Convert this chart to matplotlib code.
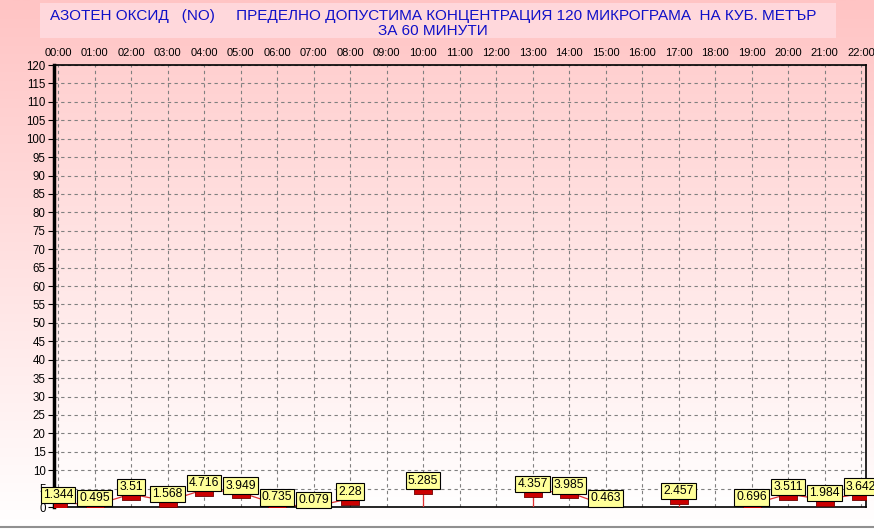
import numpy as np
import matplotlib
matplotlib.use('Agg')
import matplotlib.pyplot as plt
from matplotlib.patches import Rectangle

plt.rcParams['font.family'] = ['Liberation Sans', 'DejaVu Sans']

# данные: часы и концентрация NO (None - нет измерения)
hours = list(range(23))
hour_labels = ['%02d:00' % h for h in hours]
values = [1.344, 0.495, 3.51, 1.568, 4.716, 3.949, 0.735, 0.079, 2.28, None,
          5.285, None, None, 4.357, 3.985, 0.463, None, 2.457, None,
          0.696, 3.511, 1.984, 3.642]
y_ticks = list(range(0, 121, 5))

title_text = ('АЗОТЕН ОКСИД   (NO)     ПРЕДЕЛНО ДОПУСТИМА КОНЦЕНТРАЦИЯ 120 МИКРОГРАМА  НА КУБ. МЕТЪР\n'
              'ЗА 60 МИНУТИ')

W, H = 874, 529
fig = plt.figure(figsize=(W / 100, H / 100), dpi=100)

# фон фигуры - градиент от розового к белому
bg = fig.add_axes([0, 0, 1, 1], zorder=-10)
grad = np.linspace(0, 1, 256).reshape(-1, 1)
cols = np.zeros((256, 1, 3))
top_c = np.array([255, 196, 196]) / 255
bot_c = np.array([255, 255, 255]) / 255
for i in range(3):
    cols[:, 0, i] = top_c[i] + (bot_c[i] - top_c[i]) * grad[:, 0]
bg.imshow(cols, aspect='auto', extent=[0, 1, 0, 1], origin='upper')
bg.set_xlim(0, 1)
bg.set_ylim(0, 1)
bg.axis('off')
# полоса заголовка
bg.add_patch(Rectangle((40 / W, 1 - 38 / H), (836 - 40) / W, 35 / H,
                       facecolor='#ffdde2', edgecolor='none', alpha=0.8))
bg.text(433 / W, 1 - 23.5 / H, title_text, ha='center', va='center',
        color='#1010c8', fontsize=11, linespacing=1.1)
# серая линия внизу
bg.plot([0, 1], [1 - 527 / H, 1 - 527 / H], color='#909090', lw=1.5)

ax = fig.add_axes([54 / W, 1 - 507 / H, (866 - 54) / W, (507 - 65) / H])
ax.set_xlim(-0.11, 22.137)
ax.set_ylim(0, 120)

# градиент внутри области графика
pg = np.zeros((256, 1, 3))
top_p = np.array([255, 208, 208]) / 255
for i in range(3):
    pg[:, 0, i] = top_p[i] + (1 - top_p[i]) * grad[:, 0]
ax.imshow(pg, aspect='auto', extent=[-0.11, 22.137, 0, 120], origin='upper', zorder=0)

ax.set_xticks(hours)
ax.set_xticklabels(hour_labels, fontsize=8)
ax.xaxis.tick_top()
ax.tick_params(axis='x', length=0, pad=5)
ax.set_yticks(y_ticks)
ax.set_yticklabels([str(v) for v in y_ticks], fontsize=8.3)
ax.tick_params(axis='y', length=4, width=0.8, pad=2)
ax.grid(True, color='#808080', linestyle=(0, (3, 3)), linewidth=0.8, zorder=1)

for s in ['top', 'bottom']:
    ax.spines[s].set_linestyle((0, (2, 1)))
    ax.spines[s].set_linewidth(1.2)
ax.spines['left'].set_linewidth(2.5)
ax.spines['right'].set_linewidth(1.2)

# линии по сегментам без пропусков
seg_x, seg_y = [], []
for h, v in zip(hours + [None], values + [None]):
    if v is None:
        if seg_x:
            ax.plot(seg_x, seg_y, color='#e03030', lw=0.9, zorder=3)
        seg_x, seg_y = [], []
    else:
        if not seg_x and h > 0:
            ax.plot([h, h], [0, v], color='#e03030', lw=0.9, zorder=3)
        seg_x.append(h)
        seg_y.append(v)

xs = [h for h, v in zip(hours, values) if v is not None]
ys = [v for v in values if v is not None]
mk = [(-1, -0.65), (1, -0.65), (1, 0.65), (-1, 0.65), (-1, -0.65)]
ax.plot(xs, ys, linestyle='none', marker=mk, markersize=13,
        markerfacecolor='#cc0000', markeredgecolor='#700000', markeredgewidth=0.6, zorder=4)

for h, v in zip(xs, ys):
    ax.annotate(str(v), (h, v), xytext=(0, 5), textcoords='offset points',
                ha='center', va='center', fontsize=8.7, zorder=6,
                bbox=dict(boxstyle='square,pad=0.18', facecolor='#ffff99',
                          edgecolor='black', linewidth=0.8))

fig.savefig('out.png', dpi=100)
